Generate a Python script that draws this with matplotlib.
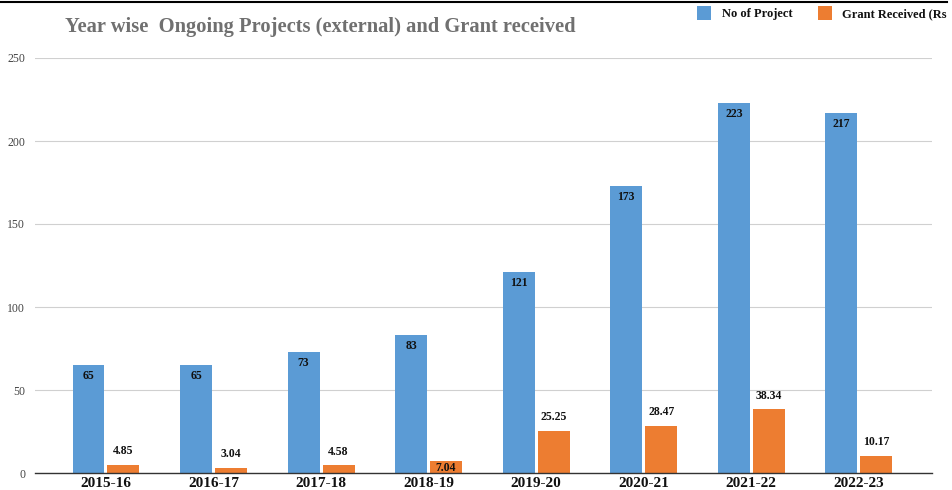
import matplotlib
matplotlib.use("Agg")
import matplotlib.pyplot as plt
from matplotlib.patches import Rectangle
from matplotlib.lines import Line2D
import numpy as np

years = ["2015-16", "2016-17", "2017-18", "2018-19", "2019-20", "2020-21", "2021-22", "2022-23"]
projects = [65, 65, 73, 83, 121, 173, 223, 217]
grants = [4.85, 3.04, 4.58, 7.04, 25.25, 28.47, 38.34, 10.17]
grant_labels = ["4.85", "3.04", "4.58", "7.04", "25.25", "28.47", "38.34", "10.17"]
yticks = [0, 50, 100, 150, 200, 250]

BLUE = "#5B9BD5"
ORANGE = "#ED7D31"
SERIF = ["Liberation Serif", "DejaVu Serif"]

plt.rcParams["font.family"] = SERIF

fig = plt.figure(figsize=(9.52, 4.90), dpi=100)
ax = fig.add_axes([35/952, 1-473/490, (932-35)/952, (473-58)/490])

x = np.arange(len(years))
w = 0.297
gap = 0.014
ax.bar(x - w/2 - gap, projects, width=w, color=BLUE, zorder=3)
ax.bar(x + w/2 + gap, grants, width=w, color=ORANGE, zorder=3)

for xi, v in zip(x, projects):
    ax.annotate(str(v), (xi - w/2 - gap, v), xytext=(0, -3.5), textcoords="offset points",
                ha="center", va="top", fontsize=8.5, fontweight="bold", color="#111111", zorder=4)
for xi, v, lab in zip(x, grants, grant_labels):
    if lab == "7.04":
        off, va = (0, -0.5), "top"
    else:
        off, va = (0, 5.5), "bottom"
    ax.annotate(lab, (xi + w/2 + gap, v), xytext=off, textcoords="offset points",
                ha="center", va=va, fontsize=8.5, fontweight="bold", color="#111111", zorder=4)

ax.set_xlim(-0.66, 7.68)
ax.set_ylim(0, 250)
ax.set_yticks(yticks)
ax.set_yticklabels([str(t) for t in yticks], fontsize=8.5, color="#444444")
ax.set_xticks(x)
ax.set_xticklabels(years, fontsize=11, fontweight="bold", color="#111111")
ax.tick_params(axis="both", length=0)
ax.tick_params(axis="y", pad=7)
ax.tick_params(axis="x", pad=3)
ax.grid(axis="y", color="#d0d0d0", linewidth=0.8, zorder=0)
for s in ["top", "right", "left"]:
    ax.spines[s].set_visible(False)
ax.spines["bottom"].set_color("#333333")
ax.spines["bottom"].set_linewidth(1.0)
ax.spines["bottom"].set_zorder(5)

fig.text(65/952, 1-27/490, "Year wise  Ongoing Projects (external) and Grant received",
         fontsize=14.8, fontweight="bold", color="#707070", ha="left", va="center")

# legend
fig.patches.append(Rectangle((697/952, 1-20/490), 14/952, 14/490, transform=fig.transFigure,
                             facecolor=BLUE, edgecolor="none"))
fig.text(722/952, 1-14/490, "No of Project", fontsize=9, fontweight="bold", color="#111111",
         ha="left", va="center")
fig.patches.append(Rectangle((818/952, 1-20/490), 14/952, 14/490, transform=fig.transFigure,
                             facecolor=ORANGE, edgecolor="none"))
fig.text(842/952, 1-14/490, "Grant Received (Rs", fontsize=9, fontweight="bold", color="#111111",
         ha="left", va="center")

# top border
fig.lines.append(Line2D([0, 947/952], [1-2/490, 1-2/490], transform=fig.transFigure,
                        color="black", linewidth=1.5))

fig.savefig("out.png", dpi=100)
